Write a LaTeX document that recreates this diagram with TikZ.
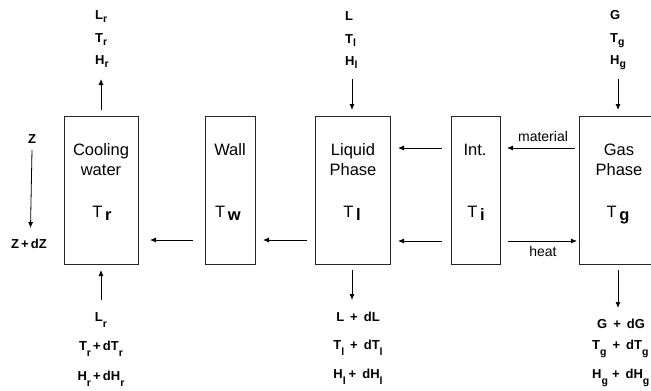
\documentclass[tikz,border=0pt]{standalone}
\usepackage{fontspec}
\setmainfont{Liberation Sans}
\usetikzlibrary{arrows.meta}
\newcommand\lsub[2][-3pt]{\raisebox{#1}{\fontsize{10.5}{10.5}\selectfont #2}}
\newcommand\bsub[1]{\raisebox{-3pt}{\bfseries #1}}
\begin{document}
\begin{tikzpicture}[x=1pt,y=-1pt,
 box/.style={draw=black!85,line width=0.9pt,minimum height=148pt,inner sep=0pt},
 lbl/.style={font=\fontsize{16.5}{16.5}\selectfont,inner sep=0pt,anchor=base},
 var/.style={font=\bfseries\fontsize{13}{13}\selectfont,inner sep=0pt},
 arr/.style={-{Latex[length=6pt,width=5pt]},line width=0.8pt},
 small/.style={font=\fontsize{14}{14}\selectfont,inner sep=0pt,anchor=base}]
\clip (0,0) rectangle (651,391);
\fill[white] (0,0) rectangle (651,391);
% boxes
\node[box,minimum width=74pt] (cw) at (101,190) {};
\node[box,minimum width=50pt] (wall) at (230,190) {};
\node[box,minimum width=75pt] (liq) at (352.5,190) {};
\node[box,minimum width=49pt] (int) at (475.5,190) {};
\node[box,minimum width=84pt] (gas) at (621,190) {};
% box texts
\node[lbl] (cw1) at (101,155) {Cooling};
\node[lbl] (cw2) at (101,175) {water};
\node[lbl] (cw3) at (102,217) {T\,\bsub{r}};
\node[lbl] (w1) at (230,155) {Wall};
\node[lbl] (w3) at (228,217) {T\,\bsub{w}};
\node[lbl] (l1) at (353,155) {Liquid};
\node[lbl] (l2) at (353,175) {Phase};
\node[lbl] (l3) at (352,217) {T\,\bsub{l}};
\node[lbl] (i1) at (475,155) {Int.};
\node[lbl] (i3) at (476,217) {T\,\bsub{i}};
\node[lbl] (g1) at (619,155) {Gas};
\node[lbl] (g2) at (619,175) {Phase};
\node[lbl] (g3) at (618,217) {T\,\bsub{g}};
% horizontal arrows
\coordinate (a1s) at (193,240); \coordinate (a1e) at (150,240);
\coordinate (a2s) at (307,240); \coordinate (a2e) at (263,240);
\coordinate (a3s) at (442,148); \coordinate (a3e) at (398,148);
\coordinate (a4s) at (442,241); \coordinate (a4e) at (398,241);
\coordinate (a5s) at (575,148); \coordinate (a5e) at (507,148);
\coordinate (a6s) at (508,241); \coordinate (a6e) at (577,241);
\draw[arr] (a1s) -- (a1e);
\draw[arr] (a2s) -- (a2e);
\draw[arr] (a3s) -- (a3e);
\draw[arr] (a4s) -- (a4e);
\draw[arr] (a5s) -- (a5e);
\draw[arr] (a6s) -- (a6e);
\node[small] (mat) at (543,141) {material};
\node[small] (heat) at (543,256) {heat};
% cooling water top
\node[var,anchor=base west] (crt1) at (95,19.5) {L\lsub{r}};
\node[var,anchor=base west] (crt2) at (95,42.5) {T\lsub{r}};
\node[var,anchor=base west] (crt3) at (95,64) {H\lsub{r}};
\coordinate (cua) at (101,110); \coordinate (cub) at (101,79);
\draw[arr] (cua) -- (cub);
% cooling water bottom
\coordinate (cda) at (101,300); \coordinate (cdb) at (101,270);
\draw[arr] (cda) -- (cdb);
\node[var,anchor=base] (crb1) at (101,321) {L\lsub[-6pt]{r}};
\node[var,anchor=base] (crb2) at (101,350) {T\lsub[-6pt]{r}\,+\,dT\lsub[-6pt]{r}};
\node[var,anchor=base] (crb3) at (101,380) {H\lsub[-6pt]{r}\,+\,dH\lsub[-6pt]{r}};
% liquid top
\node[var,anchor=base west] (lt1) at (345,20) {L};
\node[var,anchor=base west] (lt2) at (345,43) {T\lsub{l}};
\node[var,anchor=base west] (lt3) at (345,65) {H\lsub{l}};
\coordinate (lua) at (352,79); \coordinate (lub) at (352,110);
\draw[arr] (lua) -- (lub);
% liquid bottom
\coordinate (lda) at (352,270); \coordinate (ldb) at (352,300);
\draw[arr] (lda) -- (ldb);
\node[var,anchor=base] (lb1) at (358,321) {L\hspace{6pt}+\hspace{6pt}dL};
\node[var,anchor=base] (lb2) at (358,349) {T\lsub[-6pt]{l}\hspace{6pt}+\hspace{6pt}dT\lsub[-6pt]{l}};
\node[var,anchor=base] (lb3) at (358,378) {H\lsub[-6pt]{l}\hspace{3pt}+\hspace{6pt}dH\lsub[-6pt]{l}};
% gas top
\node[var,anchor=base west] (gt1) at (610,19.5) {G};
\node[var,anchor=base west] (gt2) at (610,42.5) {T\lsub{g}};
\node[var,anchor=base west] (gt3) at (610,64) {H\lsub{g}};
\coordinate (gua) at (618,79); \coordinate (gub) at (618,110);
\draw[arr] (gua) -- (gub);
% gas bottom
\coordinate (gda) at (618,270); \coordinate (gdb) at (618,308);
\draw[arr] (gda) -- (gdb);
\node[var,anchor=base west] (gb1) at (597,328) {G\hspace{6pt}+\hspace{6pt}dG};
\node[var,anchor=base west] (gb2) at (592,349) {T\lsub[-6pt]{g}\hspace{6pt}+\hspace{6pt}dT\lsub[-6pt]{g}};
\node[var,anchor=base west] (gb3) at (592,378) {H\lsub[-6pt]{g}\hspace{4pt}+\hspace{6pt}dH\lsub[-6pt]{g}};
% Z
\node[var,anchor=base] (z1) at (32,143) {Z};
\node[var,anchor=base] (z2) at (29,248) {Z\,+\,dZ};
\coordinate (za) at (32,150); \coordinate (zb) at (30.5,228);
\draw[arr] (za) -- (zb);
\end{tikzpicture}
\end{document}
